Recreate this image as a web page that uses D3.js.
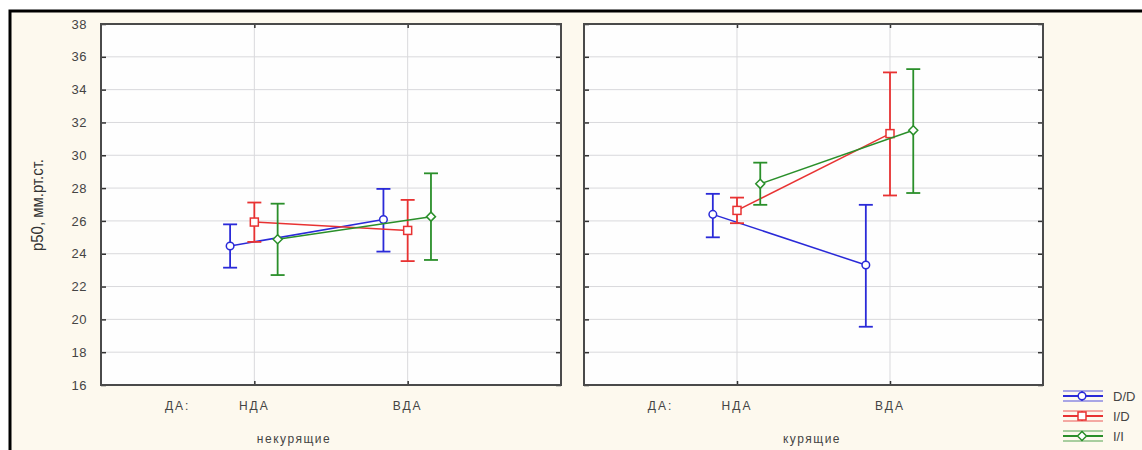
<!DOCTYPE html>
<html>
<head>
<meta charset="utf-8">
<script src="https://cdn.jsdelivr.net/npm/d3@7"></script>
<style>
  body { margin: 0; background: #ffffff; }
  svg { display: block; }
</style>
</head>
<body>
<svg id="chart"></svg>
<script>
// data
var groups = ["некурящие", "курящие"];
var categories = ["НДА", "ВДА"];
var factorLabel = "ДА:";
var series = ["D/D", "I/D", "I/I"];
var yTicks = [16, 18, 20, 22, 24, 26, 28, 30, 32, 34, 36, 38];

// means[group][series] = [НДА, ВДА]
var means = [
  [[24.47, 26.09], [25.93, 25.42], [24.88, 26.26]],
  [[26.40, 23.31], [26.64, 31.32], [28.26, 31.52]]
];
var lower = [
  [[23.15, 24.13], [24.72, 23.55], [22.70, 23.62]],
  [[25.00, 19.55], [25.86, 27.55], [26.98, 27.70]]
];
var upper = [
  [[25.79, 27.95], [27.12, 27.28], [27.05, 28.90]],
  [[27.65, 26.98], [27.42, 35.05], [29.55, 35.25]]
];

function drawChart() {
  var width = 1142, height = 450;
  var svg = d3.select("#chart").attr("width", width).attr("height", height);

  var colors = ["#2a2ad8", "#e83232", "#2a8f2a"];
  var dodge = [-0.158, 0, 0.152];
  var top = 24, bottom = 385;
  var panels = [[101, 561], [584, 1043]];

  // background + outer frame
  svg.append("rect").attr("x", 10).attr("y", 11).attr("width", width).attr("height", height)
    .attr("fill", "#fdf9ee").attr("stroke", "#000").attr("stroke-width", 3);

  var yScale = d3.scaleLinear().domain([16, 38]).range([bottom, top]);

  groups.forEach(function(g, gi) {
    var xScale = d3.scaleLinear().domain([0, 3]).range(panels[gi]);
    var p = svg.append("g");

    p.append("rect").attr("x", panels[gi][0]).attr("y", top)
      .attr("width", panels[gi][1] - panels[gi][0]).attr("height", bottom - top)
      .attr("fill", "#fefefe");

    // grid
    p.selectAll(".hg").data(yTicks.slice(1, -1)).enter().append("line")
      .attr("x1", panels[gi][0]).attr("x2", panels[gi][1])
      .attr("y1", function(d) { return yScale(d); }).attr("y2", function(d) { return yScale(d); })
      .attr("stroke", "#d9d9dc").attr("stroke-width", 1);
    p.selectAll(".vg").data(categories).enter().append("line")
      .attr("x1", function(d, i) { return xScale(i + 1); }).attr("x2", function(d, i) { return xScale(i + 1); })
      .attr("y1", top).attr("y2", bottom)
      .attr("stroke", "#d9d9dc").attr("stroke-width", 1);

    // axes
    var yAxis = d3.axisLeft(yScale).tickValues(yTicks).tickSize(-5).tickPadding(14);
    var ya = p.append("g").attr("transform", "translate(" + panels[gi][0] + ",0)").call(yAxis);
    ya.select(".domain").remove();
    ya.selectAll("line").attr("stroke", "#333").attr("stroke-width", 1.5);
    ya.selectAll("text").attr("font-family", "Liberation Sans, Arial, sans-serif")
      .attr("font-size", 13).attr("fill", "#444").attr("letter-spacing", 0.5)
      .style("display", gi === 0 ? null : "none");

    var yAxisR = d3.axisRight(yScale).tickValues(yTicks).tickSize(-5).tickFormat("");
    var yr = p.append("g").attr("transform", "translate(" + panels[gi][1] + ",0)").call(yAxisR);
    yr.select(".domain").remove();
    yr.selectAll("line").attr("stroke", "#333").attr("stroke-width", 1.5);

    var xAxis = d3.axisBottom(xScale).tickValues([1, 2]).tickSize(-4).tickFormat("");
    var xa = p.append("g").attr("transform", "translate(0," + bottom + ")").call(xAxis);
    xa.select(".domain").remove();
    xa.selectAll("line").attr("stroke", "#333").attr("stroke-width", 1.5);
    var xAxisT = d3.axisTop(xScale).tickValues([1, 2]).tickSize(-4).tickFormat("");
    var xt = p.append("g").attr("transform", "translate(0," + top + ")").call(xAxisT);
    xt.select(".domain").remove();
    xt.selectAll("line").attr("stroke", "#333").attr("stroke-width", 1.5);

    // frame
    p.append("rect").attr("x", panels[gi][0]).attr("y", top)
      .attr("width", panels[gi][1] - panels[gi][0]).attr("height", bottom - top)
      .attr("fill", "none").attr("stroke", "#4a4a4a").attr("stroke-width", 2);

    // category labels
    var labs = [factorLabel].concat(categories);
    var pos = [0.5, 1, 2];
    p.selectAll(".cl").data(labs).enter().append("text")
      .attr("x", function(d, i) { return xScale(pos[i]); }).attr("y", 410)
      .attr("text-anchor", "middle")
      .attr("font-family", "Liberation Sans, Arial, sans-serif").attr("font-size", 12)
      .attr("letter-spacing", 2).attr("fill", "#444").text(function(d) { return d; });
    p.append("text").attr("x", gi === 0 ? 294 : 812).attr("y", 443)
      .attr("text-anchor", "middle")
      .attr("font-family", "Liberation Sans, Arial, sans-serif").attr("font-size", 12)
      .attr("letter-spacing", 1.5).attr("fill", "#444").text(g);

    // series
    series.forEach(function(s, si) {
      var pts = categories.map(function(c, ci) {
        return { x: xScale(ci + 1 + dodge[si]), m: yScale(means[gi][si][ci]),
                 lo: yScale(lower[gi][si][ci]), hi: yScale(upper[gi][si][ci]) };
      });
      var line = d3.line().x(function(d) { return d.x; }).y(function(d) { return d.m; });
      p.append("path").attr("d", line(pts)).attr("fill", "none")
        .attr("stroke", colors[si]).attr("stroke-width", 1.5);
      pts.forEach(function(d) {
        p.append("line").attr("x1", d.x).attr("x2", d.x).attr("y1", d.lo).attr("y2", d.hi)
          .attr("stroke", colors[si]).attr("stroke-width", 1.8);
        [d.lo, d.hi].forEach(function(yy) {
          p.append("line").attr("x1", d.x - 7).attr("x2", d.x + 7).attr("y1", yy).attr("y2", yy)
            .attr("stroke", colors[si]).attr("stroke-width", 1.8);
        });
        drawMarker(p, si, d.x, d.m, colors[si]);
      });
    });
  });

  // y label
  svg.append("text").attr("transform", "translate(43,205) rotate(-90)")
    .attr("text-anchor", "middle")
    .attr("font-family", "Liberation Sans Narrow, Arial Narrow, sans-serif")
    .attr("font-size", 17).attr("fill", "#333")
    .attr("textLength", 92).attr("lengthAdjust", "spacingAndGlyphs")
    .text("p50, мм.рт.ст.");

  // legend
  var legY = d3.scaleBand().domain(series).range([391, 451]);
  series.forEach(function(s, si) {
    var cy = legY(s) + 5;
    var lg = svg.append("g");
    [-5, 5].forEach(function(off) {
      lg.append("line").attr("x1", 1063).attr("x2", 1103).attr("y1", cy + off).attr("y2", cy + off)
        .attr("stroke", colors[si]).attr("stroke-width", 1).attr("opacity", 0.8);
    });
    lg.append("line").attr("x1", 1063).attr("x2", 1103).attr("y1", cy).attr("y2", cy)
      .attr("stroke", colors[si]).attr("stroke-width", 2);
    lg.append("line").attr("x1", 1082).attr("x2", 1082).attr("y1", cy - 5).attr("y2", cy + 5)
      .attr("stroke", colors[si]).attr("stroke-width", 1.5);
    drawMarker(lg, si, 1082, cy, colors[si]);
    lg.append("text").attr("x", 1113).attr("y", cy + 5)
      .attr("font-family", "Liberation Sans Narrow, Arial Narrow, sans-serif")
      .attr("font-size", 13).attr("fill", "#444").text(s);
  });
}

function drawMarker(g, si, x, y, color) {
  if (si === 0) {
    g.append("circle").attr("cx", x).attr("cy", y).attr("r", 3.8)
      .attr("fill", "#fff").attr("stroke", color).attr("stroke-width", 1.5);
  } else if (si === 1) {
    g.append("rect").attr("x", x - 4).attr("y", y - 4).attr("width", 8).attr("height", 8)
      .attr("fill", "#fff").attr("stroke", color).attr("stroke-width", 1.5);
  } else {
    g.append("path").attr("d", "M" + x + "," + (y - 4.5) + "L" + (x + 4.5) + "," + y + "L" + x + "," + (y + 4.5) + "L" + (x - 4.5) + "," + y + "Z")
      .attr("fill", "#fff").attr("stroke", color).attr("stroke-width", 1.5);
  }
}

drawChart();
</script>
</body>
</html>
